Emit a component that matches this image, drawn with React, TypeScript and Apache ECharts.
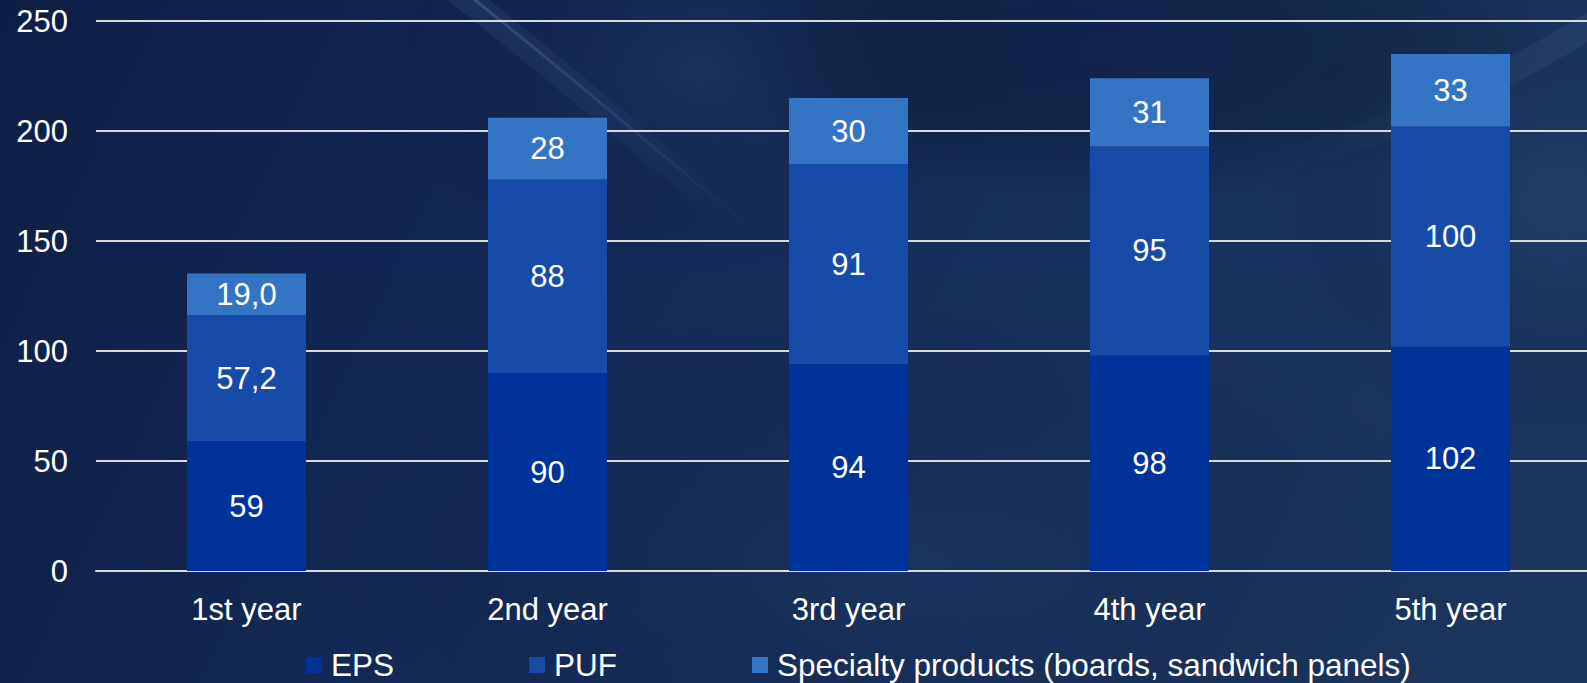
import React, { useEffect, useRef } from "react";
import * as echarts from "echarts";

const categories = ["1st year", "2nd year", "3rd year", "4th year", "5th year"];
const seriesNames = ["EPS", "PUF", "Specialty products (boards, sandwich panels)"];
const epsValues = [59, 90, 94, 98, 102];
const pufValues = [57.2, 88, 91, 95, 100];
const specialtyValues = [19.0, 28, 30, 31, 33];
const epsDecimals = [0, 0, 0, 0, 0];
const pufDecimals = [1, 0, 0, 0, 0];
const specialtyDecimals = [1, 0, 0, 0, 0];
const yTicks = { min: 0, max: 250, interval: 50 };

const colors = ["#003399", "#174ba8", "#3375c4"];
const FONT = "'Liberation Sans', Arial, sans-serif";

function fmt(decimals: number[]) {
  return (p: any) => {
    const d = decimals[p.dataIndex] || 0;
    return Number(p.value).toFixed(d).replace(".", ",");
  };
}

function radial(color: string) {
  return new echarts.graphic.RadialGradient(0.5, 0.5, 0.5, [
    { offset: 0, color },
    { offset: 1, color: "rgba(0,0,0,0)" },
  ]);
}

function fadeLine(x0: number, y0: number, x1: number, y1: number, c0: string, c1: string) {
  return new echarts.graphic.LinearGradient(
    x0, y0, x1, y1,
    [
      { offset: 0, color: c0 },
      { offset: 1, color: c1 },
    ],
    true
  );
}

export default function App() {
  const ref = useRef<HTMLDivElement>(null);
  useEffect(() => {
    if (!ref.current) return;
    const chart = echarts.init(ref.current, undefined, { renderer: "svg" });
    const mkSeries = (name: string, data: number[], dec: number[], color: string) => ({
      name,
      type: "bar",
      stack: "total",
      data,
      barWidth: 119,
      itemStyle: { color },
      label: {
        show: true,
        position: "inside",
        color: "#ffffff",
        fontSize: 31,
        fontFamily: FONT,
        formatter: fmt(dec),
      },
    });
    chart.setOption({
      animation: false,
      backgroundColor: new echarts.graphic.LinearGradient(0, 0, 1, 0.2, [
        { offset: 0, color: "#0f1e46" },
        { offset: 0.5, color: "#152b59" },
        { offset: 1, color: "#1b355f" },
      ]),
      graphic: {
        elements: [
          {
            type: "ellipse",
            z: -10,
            silent: true,
            shape: { cx: 700, cy: 70, rx: 330, ry: 210 },
            style: { fill: radial("rgba(40,68,115,0.3)") },
          },
          {
            type: "ellipse",
            z: -10,
            silent: true,
            shape: { cx: 1130, cy: 50, rx: 420, ry: 150 },
            style: { fill: radial("rgba(12,28,70,0.55)") },
          },
          {
            type: "ellipse",
            z: -10,
            silent: true,
            shape: { cx: 1560, cy: 200, rx: 300, ry: 260 },
            style: { fill: radial("rgba(55,85,135,0.3)") },
          },
          {
            type: "ellipse",
            z: -10,
            silent: true,
            shape: { cx: 900, cy: 560, rx: 600, ry: 260 },
            style: { fill: radial("rgba(40,65,110,0.25)") },
          },
          {
            type: "bezierCurve",
            z: -9,
            silent: true,
            shape: { x1: 455, y1: -10, x2: 760, y2: 240, cpx1: 560, cpy1: 70, cpx2: 660, cpy2: 160 },
            style: {
              stroke: fadeLine(455, 0, 760, 240, "rgba(130,160,210,0.10)", "rgba(130,160,210,0)"),
              lineWidth: 26,
              fill: "none",
            },
          },
          {
            type: "bezierCurve",
            z: -9,
            silent: true,
            shape: { x1: 462, y1: -10, x2: 760, y2: 235, cpx1: 565, cpy1: 70, cpx2: 660, cpy2: 155 },
            style: {
              stroke: fadeLine(462, 0, 760, 235, "rgba(160,190,230,0.20)", "rgba(160,190,230,0)"),
              lineWidth: 3,
              fill: "none",
            },
          },
          {
            type: "bezierCurve",
            z: -9,
            silent: true,
            shape: { x1: 1250, y1: 165, x2: 1600, y2: 20, cpx1: 1390, cpy1: 140, cpx2: 1500, cpy2: 80 },
            style: {
              stroke: fadeLine(1250, 165, 1600, 20, "rgba(130,160,210,0)", "rgba(130,160,210,0.10)"),
              lineWidth: 26,
              fill: "none",
            },
          },
        ],
      },
      grid: { left: 96, top: 21, width: 1505, height: 550, containLabel: false },
      legend: {
        data: seriesNames,
        left: 306,
        top: 649,
        padding: 0,
        icon: "rect",
        itemWidth: 16,
        itemHeight: 16,
        itemGap: 135,
        textStyle: { color: "#ffffff", fontSize: 31.5, fontFamily: FONT, padding: [0, 0, 0, 4] },
      },
      xAxis: {
        type: "category",
        data: categories,
        axisTick: { show: false },
        axisLine: { show: true, lineStyle: { color: "#d9d9d9", width: 2 } },
        axisLabel: { color: "#ffffff", fontSize: 31, fontFamily: FONT, margin: 23 },
      },
      yAxis: {
        type: "value",
        min: yTicks.min,
        max: yTicks.max,
        interval: yTicks.interval,
        axisLine: { show: false },
        axisTick: { show: false },
        splitLine: { show: true, lineStyle: { color: "#d9d9d9", width: 2 } },
        axisLabel: { color: "#ffffff", fontSize: 31, fontFamily: FONT, margin: 28 },
      },
      series: [
        mkSeries(seriesNames[0], epsValues, epsDecimals, colors[0]),
        mkSeries(seriesNames[1], pufValues, pufDecimals, colors[1]),
        mkSeries(seriesNames[2], specialtyValues, specialtyDecimals, colors[2]),
      ],
    });
    return () => chart.dispose();
  }, []);
  return (
    <div
      style={{
        position: "absolute",
        left: 0,
        top: 0,
        width: 1587,
        height: 683,
        overflow: "hidden",
      }}
    >
      <div ref={ref} style={{ width: 1620, height: 683 }} />
    </div>
  );
}
